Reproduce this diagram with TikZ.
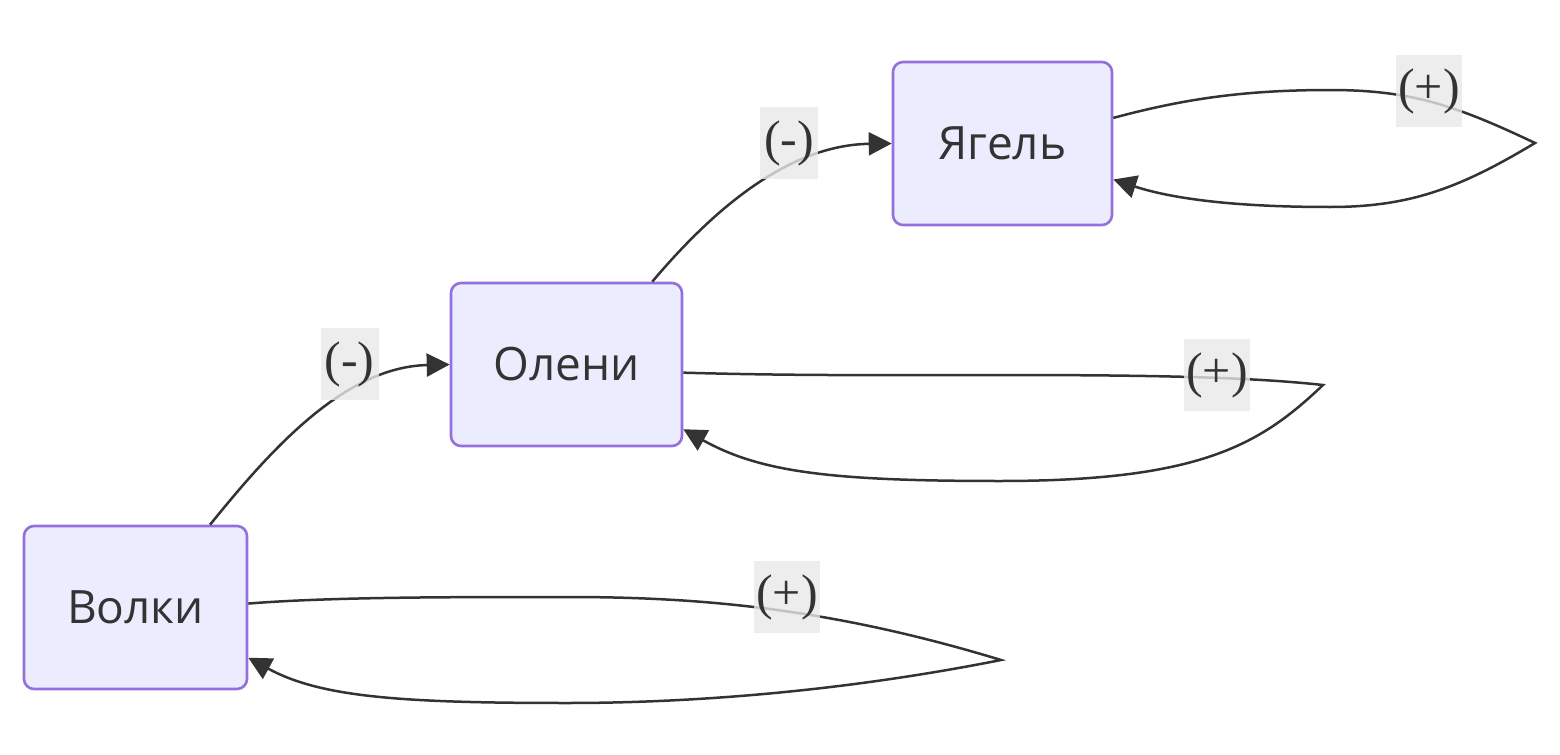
\documentclass[tikz,border=0pt]{standalone}
\usepackage{fontspec}
\setmainfont{Liberation Serif}
\newfontfamily\boxfont{Open Sans}
\usetikzlibrary{arrows.meta}
\definecolor{boxfill}{HTML}{ECECFF}
\definecolor{boxline}{HTML}{9370DB}
\definecolor{ink}{HTML}{333333}
\definecolor{lblfill}{HTML}{E8E8E8}

\begin{document}
\begin{tikzpicture}[x=0.5pt,y=-0.5pt,
    box/.style={draw=boxline,fill=boxfill,line width=1.3pt,rounded corners=5pt,
      minimum height=81.5pt,text=ink,font=\boxfont\fontsize{23}{28}\selectfont},
    lbl/.style={fill=lblfill,fill opacity=0.8,text opacity=1,text=ink,inner sep=1pt,
      minimum width=29pt,minimum height=36pt,font=\fontsize{25}{30}\selectfont},
    link/.style={draw=ink,line width=1.25pt},
    tip/.style={-{Triangle[length=11.5pt,width=11.5pt]}}]
    \useasboundingbox (0,0) rectangle (1560,755);

    \node[box,minimum width=109.5pt] (jagel) at (1002.5,143.5) {Ягель};
    \node[box,minimum width=115.5pt] (oleni) at (566.5,364.5) {Олени};
    \node[box,minimum width=111.5pt] (volki) at (135.5,607.5) {Волки};

    \coordinate (jagelturn) at (1535,143);
    \coordinate (oleniturn) at (1323,385);
    \coordinate (volkiturn) at (1001,660);

    % food chain
    \draw[link,tip] (volki.48) .. controls (272,448) and (345,367) .. (oleni.west);
    \draw[link,tip] (oleni.44) .. controls (711,212) and (787,145) .. (jagel.west);

    % self loops
    \draw[link,tip] (jagel.13) .. controls (1180,100) and (1240,90) .. (1330,90)
      .. controls (1410,90) and (1455,105) .. (jagelturn)
      .. controls (1460,188) and (1410,207) .. (1330,207)
      .. controls (1230,207) and (1170,198) .. (jagel.-18);
    \draw[link,tip] (oleni.-4) .. controls (800,376) and (900,375) .. (1000,375)
      .. controls (1150,375) and (1250,377) .. (oleniturn)
      .. controls (1260,445) and (1200,481) .. (1000,481)
      .. controls (830,481) and (760,472) .. (oleni.-29);
    \draw[link,tip] (volki.2) .. controls (330,597) and (450,597) .. (567,597)
      .. controls (700,597) and (830,608) .. (volkiturn)
      .. controls (850,690) and (700,703) .. (567,703)
      .. controls (400,703) and (320,697) .. (volki.-24);

    \node[lbl] (lab1) at (349.5,364) {(-)};
    \node[lbl] (lab2) at (789,143) {(-)};
    \node[lbl] (lab3) at (1429,91) {(+)};
    \node[lbl] (lab4) at (1217,375) {(+)};
    \node[lbl] (lab5) at (787,597) {(+)};
  \end{tikzpicture}
\end{document}
